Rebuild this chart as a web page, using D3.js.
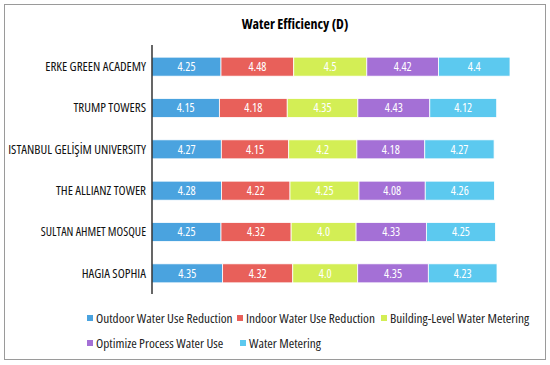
<!doctype html>
<html>
<head>
  <meta charset="utf8"/>
  <style>
    body { margin: 0; background: #fff; }
    text { font-family: "Open Sans", sans-serif; font-stretch: 80%; }
    .seg-label { fill: #fff; font-size: 12px; }
  </style>
</head>
<body>
  <svg width="550" height="365"></svg>
  <script src="https://d3js.org/d3.v7.min.js"></script>
  <script>
    // data
    var buildings = ['ERKE GREEN ACADEMY', 'TRUMP TOWERS', 'ISTANBUL GELİŞİM UNIVERSITY',
                     'THE ALLIANZ TOWER', 'SULTAN AHMET MOSQUE', 'HAGIA SOPHIA'];
    var seriesNames = ['Outdoor Water Use Reduction', 'Indoor Water Use Reduction',
                       'Building-Level Water Metering', 'Optimize Process Water Use', 'Water Metering'];
    var outdoor   = [4.25, 4.15, 4.27, 4.28, 4.25, 4.35];
    var indoor    = [4.48, 4.18, 4.15, 4.22, 4.32, 4.32];
    var building  = [4.5, 4.35, 4.2, 4.25, 4.0, 4.0];
    var process   = [4.42, 4.43, 4.18, 4.08, 4.33, 4.35];
    var metering  = [4.4, 4.12, 4.27, 4.26, 4.25, 4.23];
    var valueText = [
      ['4.25', '4.48', '4.5', '4.42', '4.4'],
      ['4.15', '4.18', '4.35', '4.43', '4.12'],
      ['4.27', '4.15', '4.2', '4.18', '4.27'],
      ['4.28', '4.22', '4.25', '4.08', '4.26'],
      ['4.25', '4.32', '4.0', '4.33', '4.25'],
      ['4.35', '4.32', '4.0', '4.35', '4.23']
    ];
    var colors = ['#4aa3df', '#e8605a', '#d3ee55', '#a470d6', '#5cc9ef'];

    var svg = d3.select('svg');

    // frame
    svg.append('rect')
      .attr('x', 4.5).attr('y', 4.5)
      .attr('width', 541).attr('height', 355)
      .attr('fill', 'none').attr('stroke', '#9a9a9a');

    svg.append('text')
      .attr('x', 295).attr('y', 29)
      .attr('text-anchor', 'middle')
      .style('font-size', '14px').style('font-weight', 'bold')
      .text('Water Efficiency (D)');

    var rows = buildings.map(function(name, i) {
      return {name: name, s0: outdoor[i], s1: indoor[i], s2: building[i], s3: process[i], s4: metering[i]};
    });
    var keys = ['s0', 's1', 's2', 's3', 's4'];
    var stacked = d3.stack().keys(keys)(rows);

    var x = d3.scaleLinear()
      .domain([0, d3.max(rows, function(d) { return d.s0 + d.s1 + d.s2 + d.s3 + d.s4; })])
      .range([152, 510]);
    var y = d3.scaleBand()
      .domain(buildings)
      .range([46, 294])
      .paddingInner(0.54)
      .paddingOuter(0.27);

    var layer = svg.selectAll('.layer')
      .data(stacked)
      .enter().append('g')
        .attr('class', 'layer')
        .attr('fill', function(d, i) { return colors[i]; });

    layer.selectAll('rect')
      .data(function(d) { return d; })
      .enter().append('rect')
        .attr('x', function(d) { return x(d[0]); })
        .attr('y', function(d) { return y(d.data.name); })
        .attr('width', function(d) { return x(d[1]) - x(d[0]); })
        .attr('height', y.bandwidth())
        .attr('stroke', '#fff')
        .attr('stroke-width', 0.8);

    layer.each(function(s, si) {
      d3.select(this).selectAll('text')
        .data(s)
        .enter().append('text')
          .attr('class', 'seg-label')
          .attr('x', function(d) { return (x(d[0]) + x(d[1])) / 2; })
          .attr('y', function(d) { return y(d.data.name) + y.bandwidth() / 2; })
          .attr('dy', '0.36em')
          .attr('text-anchor', 'middle')
          .text(function(d, i) { return valueText[i][si]; });
    });

    // category axis
    var yAxis = svg.append('g')
      .attr('transform', 'translate(152,0)')
      .call(d3.axisLeft(y).tickSize(0).tickPadding(6));
    yAxis.select('.domain').attr('d', 'M0,45V294').attr('stroke', '#000').attr('stroke-width', 1.2);
    yAxis.selectAll('.tick text')
      .attr('fill', '#111')
      .style('font-family', '"Open Sans", sans-serif')
      .style('font-size', function(d) { return d === 'SULTAN AHMET MOSQUE' ? '12.2px' : '13px'; });

    // legend
    var legendPos = [[87, 318], [237, 318], [381, 318], [87, 343], [240, 343]];
    var legend = svg.selectAll('.legend')
      .data(seriesNames)
      .enter().append('g')
        .attr('class', 'legend')
        .attr('transform', function(d, i) { return 'translate(' + legendPos[i][0] + ',' + legendPos[i][1] + ')'; });
    legend.append('rect')
      .attr('x', 0).attr('y', -3)
      .attr('width', 6).attr('height', 6)
      .attr('fill', function(d, i) { return colors[i]; });
    legend.append('text')
      .attr('x', 9).attr('dy', '0.36em')
      .style('font-size', '13.3px')
      .attr('fill', '#222')
      .text(function(d) { return d; });
  </script>
</body>
</html>
